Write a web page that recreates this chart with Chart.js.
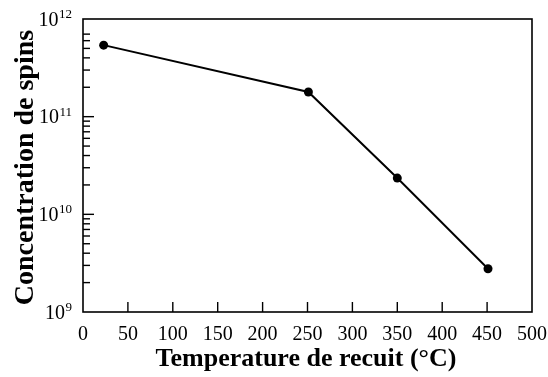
<!DOCTYPE html>
<html>
<head>
<meta charset="utf-8">
<script src="https://cdn.jsdelivr.net/npm/chart.js@4/dist/chart.umd.min.js"></script>
<style>
  html, body { margin: 0; padding: 0; background: #ffffff; }
  #wrap { width: 548px; height: 377px; }
</style>
</head>
<body>
<div id="wrap"><canvas id="c" width="548" height="377"></canvas></div>
<script>
// Annealing temperature (°C) and measured spin concentration
const temperatures = [23, 251, 350, 451];
const spinConcentration = [5.4e11, 1.79e11, 2.35e10, 2.77e9];

// Axis ticks
const xTickValues = [0, 50, 100, 150, 200, 250, 300, 350, 400, 450, 500];
const yDecadeExponents = [9, 10, 11, 12];
const yMinorFactors = [2, 3, 4, 5, 6, 7, 8, 9];

const xTitle = 'Temperature de recuit (°C)';
const yTitle = 'Concentration de spins';

const SERIF = '"Liberation Serif", "Times New Roman", serif';

// Frame, inward ticks, tick labels and axis titles drawn from the chart's scales
const framePlugin = {
  id: 'framePlugin',
  afterDraw(chart) {
    const ctx = chart.ctx;
    const area = chart.chartArea;
    const xs = chart.scales.x;
    const ys = chart.scales.y;
    ctx.save();
    ctx.strokeStyle = '#000';
    ctx.fillStyle = '#000';

    // frame
    ctx.lineWidth = 1.6;
    ctx.strokeRect(area.left, area.top, area.right - area.left, area.bottom - area.top);

    // x ticks (inward from bottom) and labels
    ctx.lineWidth = 1.4;
    ctx.font = '20px ' + SERIF;
    ctx.textAlign = 'center';
    ctx.textBaseline = 'alphabetic';
    xTickValues.forEach(v => {
      const px = xs.getPixelForValue(v);
      if (v > xs.min && v < xs.max) {
        ctx.beginPath();
        ctx.moveTo(px, area.bottom);
        ctx.lineTo(px, area.bottom - 10);
        ctx.stroke();
      }
      ctx.fillText(String(v), px, area.bottom + 28);
    });

    // y ticks (inward from left): decades and minor ticks
    yDecadeExponents.forEach(e => {
      const base = Math.pow(10, e);
      const py = ys.getPixelForValue(base);
      if (base > ys.min && base < ys.max) {
        ctx.beginPath();
        ctx.moveTo(area.left, py);
        ctx.lineTo(area.left + 11, py);
        ctx.stroke();
      }
      if (base < ys.max) {
        yMinorFactors.forEach(f => {
          const my = ys.getPixelForValue(base * f);
          // minor ticks crowding the top edge are left out
          if (my - area.top < 12) return;
          ctx.beginPath();
          ctx.moveTo(area.left, my);
          ctx.lineTo(area.left + 7, my);
          ctx.stroke();
        });
      }
      // label 10^e, right-aligned as a group
      const rightEdge = area.left - 11;
      ctx.textAlign = 'right';
      ctx.font = '13px ' + SERIF;
      const sup = String(e);
      const supW = ctx.measureText(sup).width;
      ctx.fillText(sup, rightEdge, py - 1);
      ctx.font = '20px ' + SERIF;
      ctx.fillText('10', rightEdge - supW - 0.5, py + 6.5);
    });

    // axis titles
    ctx.textAlign = 'center';
    ctx.font = 'bold 26px ' + SERIF;
    ctx.fillText(xTitle, 306, 366);
    ctx.save();
    ctx.font = 'bold 28px ' + SERIF;
    ctx.translate(33, 167.5);
    ctx.rotate(-Math.PI / 2);
    ctx.fillText(yTitle, 0, 0);
    ctx.restore();

    ctx.restore();
  }
};

new Chart(document.getElementById('c'), {
  type: 'line',
  data: {
    datasets: [{
      data: temperatures.map((t, i) => ({ x: t, y: spinConcentration[i] })),
      borderColor: '#000',
      backgroundColor: '#000',
      borderWidth: 2,
      pointRadius: 4.5,
      pointBackgroundColor: '#000',
      pointBorderWidth: 0,
      tension: 0
    }]
  },
  options: {
    responsive: false,
    animation: false,
    devicePixelRatio: 1,
    layout: { padding: { left: 83, top: 19, right: 16, bottom: 65 } },
    plugins: { legend: { display: false }, tooltip: { enabled: false } },
    scales: {
      x: { type: 'linear', min: 0, max: 500, display: false },
      y: { type: 'logarithmic', min: 1e9, max: 1e12, display: false }
    }
  },
  plugins: [framePlugin]
});
</script>
</body>
</html>
